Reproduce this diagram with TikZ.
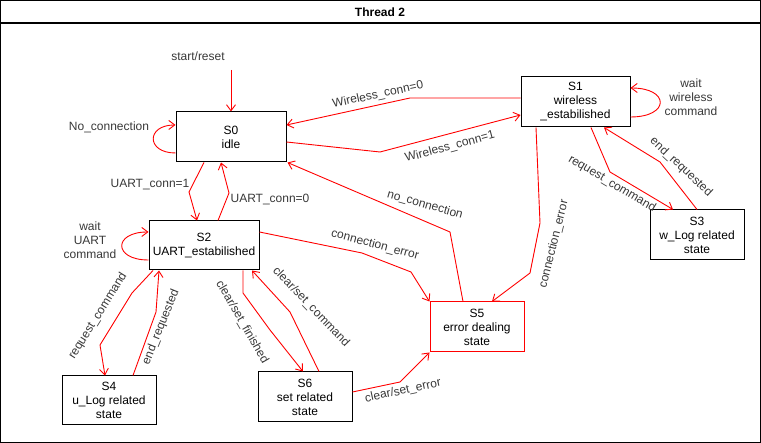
\documentclass[tikz,border=0pt]{standalone}
\usepackage{fontspec}
\setmainfont{Liberation Sans}[Ligatures=NoCommon]
\usetikzlibrary{arrows.meta}
\begin{document}
\begin{tikzpicture}[x=1pt,y=-1pt,
  every node/.style={font=\fontsize{12}{14}\selectfont},
  state/.style={draw=black,line width=1pt,rectangle,align=center,inner sep=0pt,fill=white},
  errstate/.style={state,draw=red},
  tr/.style={draw=red,line width=0.9pt,-{Straight Barb[length=6pt,width=9pt]}},
  lbl/.style={text=black!78,inner sep=1pt},
  lbltxt/.style={text=black!78,align=center,inner sep=1pt}]
\useasboundingbox (0,0) rectangle (761,443);
\draw[line width=1.2pt] (0.6,0.6) rectangle (760.4,442.4);
\draw[line width=1.2pt] (0.6,23) -- (760.4,23);
\node[font=\fontsize{12}{14}\selectfont\bfseries] (title) at (380,12) {Thread 2};

\node[state,minimum width=110pt,minimum height=50pt] (S0) at (231,137) {S0\\idle};
\node[state,minimum width=109pt,minimum height=50pt] (S1) at (575.5,102) {S1\\wireless\\\_estabilished};
\node[state,minimum width=110pt,minimum height=49pt] (S2) at (204,245.5) {S2\\UART\_estabilished};
\node[state,minimum width=94pt,minimum height=50pt] (S3) at (697,235) {S3\\w\_Log related\\state};
\node[state,minimum width=94pt,minimum height=49pt] (S4) at (109,400.5) {S4\\u\_Log related\\state};
\node[errstate,minimum width=94pt,minimum height=50pt] (S5) at (477,327) {S5\\error dealing\\state};
\node[state,minimum width=94pt,minimum height=50pt] (S6) at (305,397) {S6\\set related\\state};

% start
\node[lbl] (startlbl) at (198,56) {start/reset};
\coordinate (start) at (231,70);
\draw[tr] (start) -- (S0.north);

% S0 self loop
\draw[tr] ([yshift=-16]S0.west) .. controls (146,153) and (146,125) .. ([yshift=12]S0.west);
\node[lbl] (l1) at (109,127) {No\_connection};

% Wireless_conn=0
\draw[tr] ([yshift=4]S1.west) -- (410,98) -- ([yshift=12]S0.east);
\node[lbl,rotate=12] (l2) at (378,95) {Wireless\_conn=0};

% Wireless_conn=1
\draw[tr] ([yshift=-5]S0.east) -- (380,152) -- ([yshift=-13]S1.west);
\node[lbl,rotate=15] (l3) at (450,147) {Wireless\_conn=1};

% S1 self loop
\draw[tr] ([yshift=-15]S1.east) .. controls (670,117) and (670,88) .. ([yshift=14]S1.east);
\node[lbltxt] (l4) at (691,97) {wait\\wireless\\command};

% S1 -> S3
\draw[tr] ([xshift=15.5]S1.south) -- (610,172) -- ([xshift=-24]S3.north);
\node[lbl,rotate=-31] (l5) at (612,184) {request\_command};

% S3 -> S1
\draw[tr] (S3.north) -- (660,162) -- ([xshift=28.5]S1.south);
\node[lbl,rotate=-43] (l6) at (681,167) {end\_requested};

% S1 -> S5
\draw[tr] ([xshift=-39.5]S1.south) -- (540,223) -- (530,273) -- ([xshift=15]S5.north);
\node[lbl,rotate=76] (l7) at (554,244) {connection\_error};

% S5 -> S0
\draw[tr] ([xshift=-14]S5.north) -- (450,232) -- ([xshift=1]S0.south east);
\node[lbl,rotate=-16] (l8) at (425,205) {no\_connection};

% S2 -> S5
\draw[tr] ([yshift=13.5]S2.east) -- (362,253) -- (411,272) -- (S5.north west);
\node[lbl,rotate=-15] (l9) at (375,245) {connection\_error};

% S0 -> S2
\draw[tr] ([xshift=-27]S0.south) -- (189,192) -- ([xshift=-7]S2.north);
\node[lbl] (l10) at (150,185) {UART\_conn=1};

% S2 -> S0
\draw[tr] ([xshift=14]S2.north) -- (229,193) -- ([xshift=-10]S0.south);
\node[lbl] (l11) at (270,200) {UART\_conn=0};

% S2 self loop
\draw[tr] ([yshift=-14.5]S2.west) .. controls (113,260) and (113,232) .. ([yshift=13.5]S2.west);
\node[lbltxt] (l12) at (90,240) {wait\\UART\\command};

% S2 -> S4
\draw[tr] ([xshift=-51]S2.south) -- (132,293) -- (100,345) -- ([xshift=-4]S4.north);
\node[lbl,rotate=58] (l13) at (98,316) {request\_command};

% S4 -> S2
\draw[tr] ([xshift=24]S4.north) -- (156,312) -- ([xshift=-45]S2.south);
\node[lbl,rotate=68] (l14) at (161,327) {end\_requested};

% S2 -> S6
\draw[tr] ([xshift=39]S2.south) -- (243,293) -- (270,330) -- ([xshift=-2]S6.north);
\node[lbl,rotate=-60] (l15) at (242,322) {clear/set\_finished};

% S6 -> S2
\draw[tr] ([xshift=14]S6.north) -- (290,312) -- ([xshift=48]S2.south);
\node[lbl,rotate=-46] (l16) at (311,307) {clear/set\_command};

% S6 -> S5
\draw[tr] ([yshift=5]S6.east) -- (400,382) -- (S5.south west);
\node[lbl,rotate=12] (l17) at (403,391) {clear/set\_error};
\end{tikzpicture}
\end{document}
